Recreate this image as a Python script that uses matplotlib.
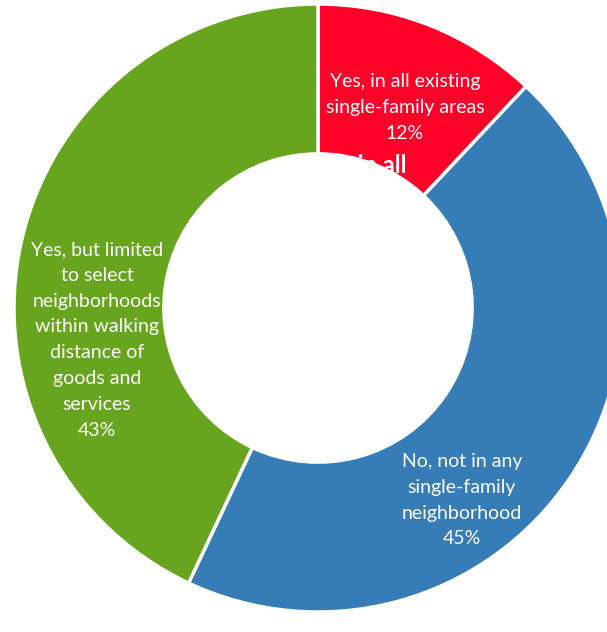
import matplotlib
matplotlib.use("Agg")
import matplotlib.pyplot as plt

# ─── data ────────────────────────────────────────────────────────────────────
labels = ["Yes, in all existing\nsingle-family areas",
          "No, not in any\nsingle-family\nneighborhood",
          "Yes, but limited\nto select\nneighborhoods\nwithin walking\ndistance of\ngoods and\nservices"]
values = [12, 45, 43]
colors = ["#FF0029", "#367DB8", "#67A51F"]

plt.rcParams['font.family'] = ['Lato', 'DejaVu Sans']

R_PX = 304.0          # outer radius in pixels
CX, CY = 318, 308     # pie centre in pixels


def px(x, y):
    # pixel position (from top-left) -> data coords
    return (x - CX) / R_PX, (CY - y) / R_PX


fig = plt.figure(figsize=(6.07, 6.32), dpi=100)
ax = fig.add_axes([0, 0, 1, 1])

ax.pie(values, colors=colors, startangle=90, counterclock=False, radius=1.0,
       wedgeprops=dict(width=0.493, edgecolor="white", linewidth=2.5))

# leftover title text, partly hidden by the hole (white on white)
ax.text(*px(357, 163), "Yes, in all", color="white", fontsize=17,
        fontweight="bold", ha="center", va="center_baseline", zorder=5)

# first line position (pixels) for each label
first_line = [(405, 80), (462, 460), (97, 248)]
step = 25.8
for lab, v, (x0, y0) in zip(labels, values, first_line):
    lines = lab.split("\n") + [f"{v}%"]
    for i, line in enumerate(lines):
        ax.text(*px(x0, y0 + i * step), line, color="white", fontsize=14,
                ha="center", va="center_baseline", zorder=5)

ax.set_aspect("auto")
ax.set_xlim(-CX / R_PX, (607 - CX) / R_PX)
ax.set_ylim(-(632 - CY) / R_PX, CY / R_PX)
ax.axis("off")

fig.savefig("out.png", dpi=100)
